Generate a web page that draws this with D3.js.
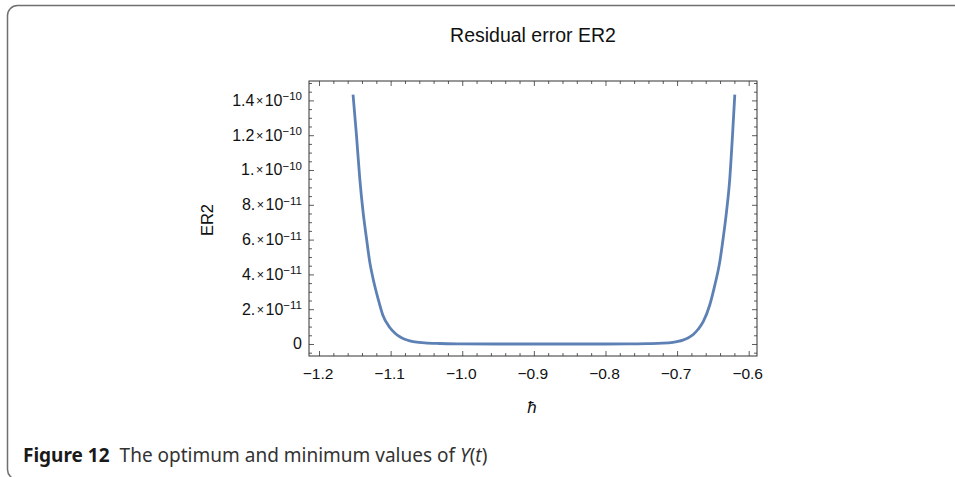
<!DOCTYPE html>
<html>
<head>
<meta charset="utf-8">
<script src="https://cdn.jsdelivr.net/npm/d3@7"></script>
<style>
  body { margin: 0; background: #fff; }
  svg { display: block; }
</style>
</head>
<body>
<div id="chart"></div>
<script>
// values
var hbar = [-1.1525, -1.1477, -1.1431, -1.1385, -1.1337, -1.1292, -1.1245, -1.1176,
            -1.1110, -1.1012, -1.0942, -1.0872, -1.0803, -1.0733, -1.0663, -1.0523,
            -1.0314, -1.0034, -0.95, -0.9, -0.85, -0.8, -0.7687, -0.7407, -0.7198,
            -0.7058, -0.6988, -0.6918, -0.6848, -0.6774, -0.6709, -0.6635, -0.6544,
            -0.6473, -0.6404, -0.6357, -0.631, -0.6264, -0.6226, -0.6194];
var er2 = [14.33e-11, 11.99e-11, 9.50e-11, 7.59e-11, 6.06e-11, 4.72e-11, 3.75e-11, 2.61e-11,
           1.667e-11, 0.948e-11, 0.632e-11, 0.414e-11, 0.276e-11, 0.184e-11, 0.126e-11, 0.063e-11,
           0.029e-11, 0.011e-11, 0, 0, 0, 0, 0.007e-11, 0.020e-11, 0.046e-11,
           0.098e-11, 0.149e-11, 0.224e-11, 0.345e-11, 0.546e-11, 0.833e-11, 1.282e-11, 2.24e-11,
           3.38e-11, 4.72e-11, 6.06e-11, 7.59e-11, 9.51e-11, 11.99e-11, 14.33e-11];

var xTicks = [-1.2, -1.1, -1.0, -0.9, -0.8, -0.7, -0.6];
var xTickLabels = ["\u22121.2", "\u22121.1", "\u22121.0", "\u22120.9", "\u22120.8", "\u22120.7", "\u22120.6"];
var yTicks = [0, 2e-11, 4e-11, 6e-11, 8e-11, 1e-10, 1.2e-10, 1.4e-10];
var yTickMant = ["0", "2.", "4.", "6.", "8.", "1.", "1.2", "1.4"];
var yTickExp = [null, "\u221211", "\u221211", "\u221211", "\u221211", "\u221210", "\u221210", "\u221210"];

var titleText = "Residual error ER2";
var xLabel = "\u0127";
var yLabel = "ER2";

var W = 955, H = 477;
var plot = { left: 309, right: 757, top: 81, bottom: 356 };

var svg = d3.select("#chart").append("svg")
            .attr("width", W)
            .attr("height", H);

// outer rounded box of the figure
svg.append("rect")
   .attr("x", 7.5).attr("y", 5.5)
   .attr("width", 1000).attr("height", 474)
   .attr("rx", 10).attr("ry", 10)
   .attr("fill", "none")
   .attr("stroke", "#6f6f6f")
   .attr("stroke-width", 1.5);

var xScale = d3.scaleLinear()
               .domain([-1.214, -0.5884])
               .range([plot.left, plot.right]);
var yScale = d3.scaleLinear()
               .domain([-0.69e-11, 15.115e-11])
               .range([plot.bottom, plot.top]);

// minor tick values
var xMinor = d3.range(-1.20, -0.58, 0.02).filter(function(v) {
  return Math.abs(Math.round(v * 10) - v * 10) > 1e-6;
});
var yMinor = d3.range(-0.5e-11, 15.1e-11, 0.5e-11).filter(function(v) {
  return Math.abs(Math.round(v / 2e-11) - v / 2e-11) > 1e-6;
});

function drawAxis(axis, tx, ty) {
  var g = svg.append("g")
             .attr("class", "axis")
             .attr("transform", "translate(" + tx + "," + ty + ")")
             .call(axis);
  g.select(".domain").remove();
  g.selectAll("line").attr("stroke", "#333").attr("stroke-width", 0.8);
  g.selectAll("text").remove();
  return g;
}

// ticks on all four sides, pointing inward
drawAxis(d3.axisBottom(xScale).tickValues(xTicks).tickSize(-5), 0, plot.bottom);
drawAxis(d3.axisBottom(xScale).tickValues(xMinor).tickSize(-3), 0, plot.bottom);
drawAxis(d3.axisTop(xScale).tickValues(xTicks).tickSize(-5), 0, plot.top);
drawAxis(d3.axisTop(xScale).tickValues(xMinor).tickSize(-3), 0, plot.top);
drawAxis(d3.axisLeft(yScale).tickValues(yTicks).tickSize(-5), plot.left, 0);
drawAxis(d3.axisLeft(yScale).tickValues(yMinor).tickSize(-3), plot.left, 0);
drawAxis(d3.axisRight(yScale).tickValues(yTicks).tickSize(-5), plot.right, 0);
drawAxis(d3.axisRight(yScale).tickValues(yMinor).tickSize(-3), plot.right, 0);

// frame
svg.append("rect")
   .attr("x", plot.left).attr("y", plot.top)
   .attr("width", plot.right - plot.left)
   .attr("height", plot.bottom - plot.top)
   .attr("fill", "none")
   .attr("stroke", "#333")
   .attr("stroke-width", 1);

var font = "'Liberation Sans', Arial, sans-serif";

// x tick labels
svg.append("g").selectAll("text")
   .data(xTicks)
   .enter().append("text")
   .attr("x", function(d) { return xScale(d) - 1; })
   .attr("y", plot.bottom + 23)
   .attr("text-anchor", "middle")
   .attr("font-family", font)
   .attr("font-size", 15.5)
   .attr("fill", "#111")
   .text(function(d, i) { return xTickLabels[i]; });

// y tick labels, mantissa x 10^exp
var yl = svg.append("g").selectAll("text")
            .data(yTicks)
            .enter().append("text")
            .attr("x", plot.left - 7)
            .attr("y", function(d) { return yScale(d) + 5.5; })
            .attr("text-anchor", "end")
            .attr("font-family", font)
            .attr("font-size", 16)
            .attr("fill", "#111");
yl.each(function(d, i) {
  var t = d3.select(this);
  t.append("tspan").text(yTickMant[i]);
  if (yTickExp[i]) {
    t.append("tspan").attr("font-size", 12.5).attr("dx", 1.5).attr("dy", -1).text("\u00d7");
    t.append("tspan").attr("dx", 1.5).attr("dy", 1).text("10");
    t.append("tspan").attr("font-size", 11.5).attr("dy", -5.5).text(yTickExp[i]);
  }
});

// curve
var line = d3.line()
             .x(function(d, i) { return xScale(hbar[i]); })
             .y(function(d) { return yScale(d); })
             .curve(d3.curveMonotoneX);

svg.append("path")
   .datum(er2)
   .attr("d", line)
   .attr("fill", "none")
   .attr("stroke", "#5e81b5")
   .attr("stroke-width", 2.8)
   .attr("stroke-linejoin", "round");

// title and axis labels
svg.append("text")
   .attr("x", (plot.left + plot.right) / 2)
   .attr("y", 42)
   .attr("text-anchor", "middle")
   .attr("font-family", font)
   .attr("font-size", 19.5)
   .attr("fill", "#111")
   .text(titleText);

svg.append("text")
   .attr("x", 532)
   .attr("y", 413)
   .attr("text-anchor", "middle")
   .attr("font-family", font)
   .attr("font-style", "italic")
   .attr("font-size", 17)
   .attr("fill", "#111")
   .text(xLabel);

svg.append("text")
   .attr("transform", "translate(213,220) rotate(-90)")
   .attr("text-anchor", "middle")
   .attr("font-family", font)
   .attr("font-size", 16.5)
   .attr("fill", "#111")
   .text(yLabel);

// caption
var cap = svg.append("text")
             .attr("x", 23)
             .attr("y", 462)
             .attr("font-family", "'Noto Sans', 'Open Sans', sans-serif")
             .attr("font-size", 19)
             .attr("fill", "#333");
cap.append("tspan").attr("font-weight", "bold").attr("fill", "#1a1a1a").text("Figure 12");
cap.append("tspan").attr("dx", 10).text("The optimum and minimum values of ");
cap.append("tspan").attr("font-style", "italic").text("Y");
cap.append("tspan").text("(");
cap.append("tspan").attr("font-style", "italic").text("t");
cap.append("tspan").text(")");
</script>
</body>
</html>
